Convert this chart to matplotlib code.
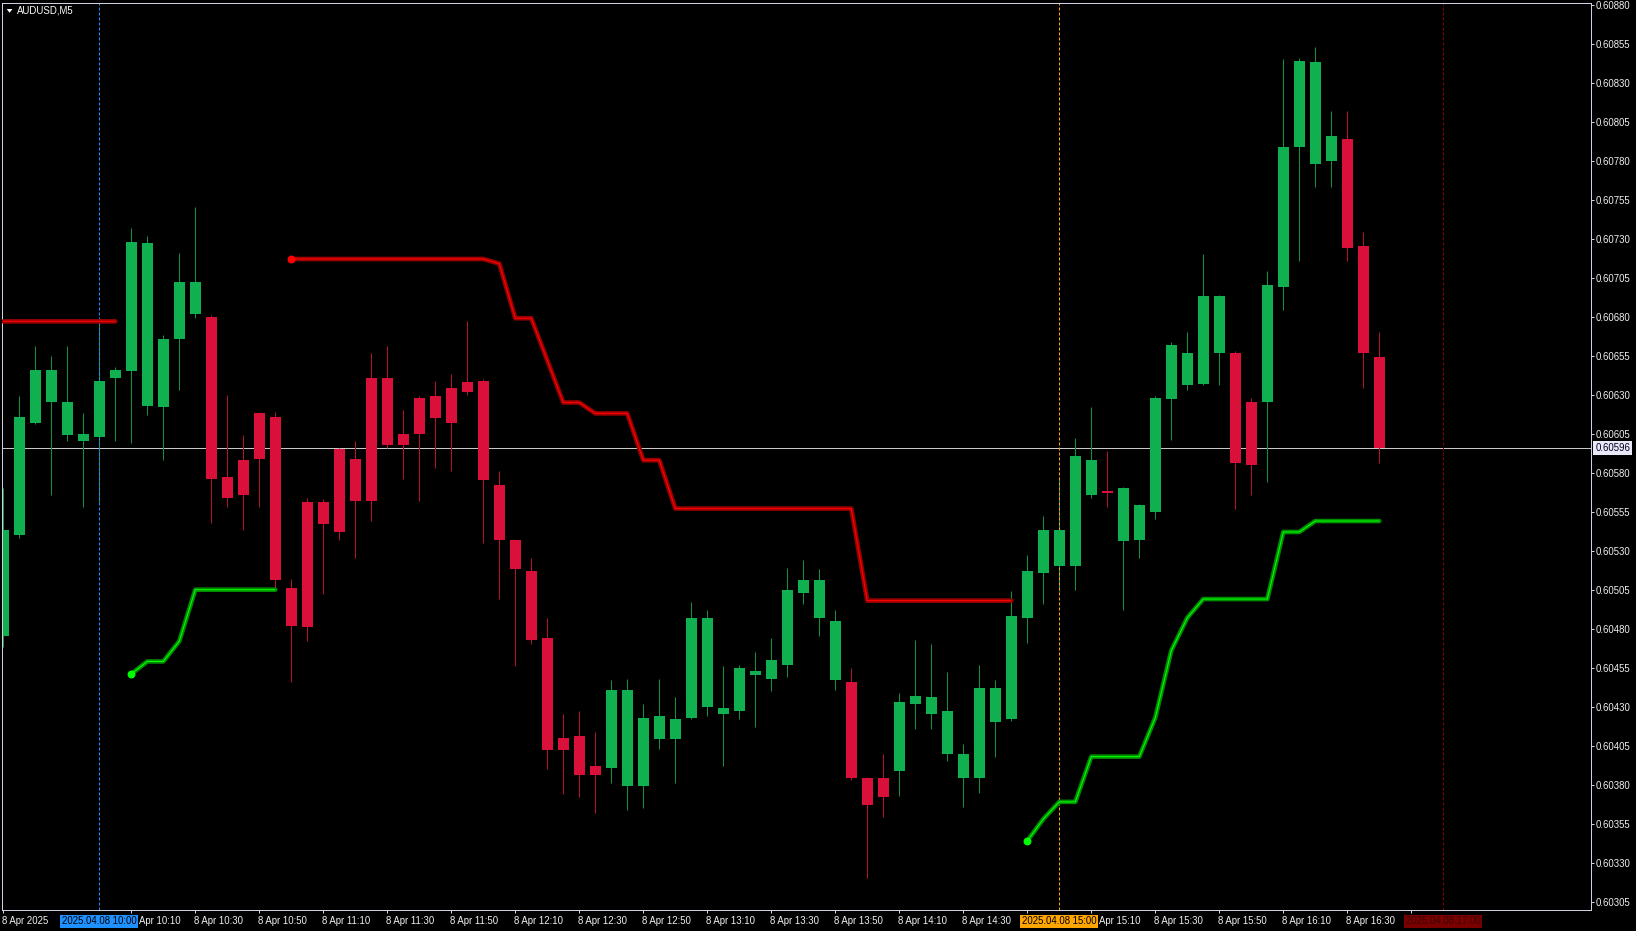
import matplotlib
matplotlib.use("Agg")
import matplotlib.pyplot as plt
from matplotlib.transforms import blended_transform_factory, ScaledTranslation
from matplotlib.patches import Polygon
import numpy as np
import pandas as pd

# ---------------- data ----------------
symbol_label = "AUDUSD,M5"
first_bar_time = "2025-04-08 09:30"
bar_minutes = 5

opens = [0.60475, 0.60540, 0.60612, 0.60625, 0.60604, 0.60600, 0.60603, 0.60641, 0.60645, 0.60623,
         0.60622, 0.60666, 0.60682, 0.60680, 0.60577, 0.60588, 0.60618, 0.60616, 0.60506, 0.60561,
         0.60561, 0.60595, 0.60589, 0.60641, 0.60641, 0.60605, 0.60628, 0.60629, 0.60634, 0.60638,
         0.60639, 0.60572, 0.60537, 0.60517, 0.60474, 0.60410, 0.60411, 0.60392, 0.60391, 0.60379,
         0.60379, 0.60409, 0.60409, 0.60423, 0.60430, 0.60425, 0.60427, 0.60450, 0.60448, 0.60457,
         0.60503, 0.60487, 0.60447, 0.60446, 0.60384, 0.60384, 0.60389, 0.60432, 0.60425, 0.60400,
         0.60384, 0.60384, 0.60420, 0.60422, 0.60487, 0.60516, 0.60520, 0.60520, 0.60566, 0.60568,
         0.60536, 0.60537, 0.60555, 0.60627, 0.60636, 0.60637, 0.60657, 0.60657, 0.60625, 0.60625,
         0.60699, 0.60789, 0.60778, 0.60780, 0.60794, 0.60725, 0.60654]
highs = [0.60570, 0.60629, 0.60661, 0.60655, 0.60661, 0.60618, 0.60678, 0.60648, 0.60737, 0.60732,
         0.60668, 0.60721, 0.60750, 0.60681, 0.60630, 0.60604, 0.60619, 0.60619, 0.60512, 0.60564,
         0.60563, 0.60596, 0.60600, 0.60657, 0.60661, 0.60620, 0.60629, 0.60639, 0.60643, 0.60677,
         0.60640, 0.60581, 0.60537, 0.60525, 0.60487, 0.60425, 0.60427, 0.60414, 0.60447, 0.60448,
         0.60432, 0.60448, 0.60436, 0.60497, 0.60492, 0.60456, 0.60457, 0.60465, 0.60474, 0.60519,
         0.60524, 0.60518, 0.60492, 0.60455, 0.60385, 0.60400, 0.60439, 0.60473, 0.60470, 0.60452,
         0.60406, 0.60457, 0.60447, 0.60504, 0.60527, 0.60552, 0.60577, 0.60602, 0.60622, 0.60594,
         0.60571, 0.60560, 0.60629, 0.60664, 0.60670, 0.60720, 0.60694, 0.60658, 0.60628, 0.60709,
         0.60845, 0.60846, 0.60853, 0.60812, 0.60812, 0.60734, 0.60670]
lows = [0.60468, 0.60538, 0.60611, 0.60566, 0.60600, 0.60558, 0.60561, 0.60600, 0.60599, 0.60617,
        0.60588, 0.60633, 0.60679, 0.60548, 0.60558, 0.60543, 0.60558, 0.60505, 0.60446, 0.60472,
        0.60502, 0.60537, 0.60525, 0.60549, 0.60596, 0.60576, 0.60562, 0.60583, 0.60581, 0.60630,
        0.60535, 0.60499, 0.60456, 0.60470, 0.60390, 0.60374, 0.60372, 0.60362, 0.60381, 0.60364,
        0.60365, 0.60403, 0.60381, 0.60422, 0.60424, 0.60392, 0.60422, 0.60417, 0.60440, 0.60449,
        0.60496, 0.60475, 0.60441, 0.60383, 0.60320, 0.60359, 0.60373, 0.60416, 0.60416, 0.60395,
        0.60366, 0.60375, 0.60398, 0.60421, 0.60471, 0.60496, 0.60504, 0.60505, 0.60564, 0.60558,
        0.60492, 0.60525, 0.60550, 0.60601, 0.60633, 0.60636, 0.60636, 0.60557, 0.60566, 0.60574,
        0.60684, 0.60716, 0.60763, 0.60763, 0.60716, 0.60634, 0.60586]
closes = [0.60543, 0.60616, 0.60646, 0.60646, 0.60625, 0.60605, 0.60639, 0.60646, 0.60728, 0.60727,
          0.60666, 0.60702, 0.60702, 0.60576, 0.60564, 0.60566, 0.60589, 0.60511, 0.60482, 0.60481,
          0.60547, 0.60542, 0.60562, 0.60562, 0.60598, 0.60598, 0.60605, 0.60615, 0.60612, 0.60632,
          0.60575, 0.60537, 0.60518, 0.60473, 0.60402, 0.60402, 0.60386, 0.60386, 0.60441, 0.60441,
          0.60423, 0.60424, 0.60422, 0.60487, 0.60487, 0.60429, 0.60455, 0.60453, 0.60460, 0.60505,
          0.60511, 0.60511, 0.60485, 0.60384, 0.60367, 0.60372, 0.60433, 0.60437, 0.60436, 0.60427,
          0.60400, 0.60442, 0.60442, 0.60488, 0.60517, 0.60543, 0.60543, 0.60591, 0.60588, 0.60567,
          0.60570, 0.60559, 0.60628, 0.60662, 0.60657, 0.60693, 0.60693, 0.60586, 0.60585, 0.60700,
          0.60789, 0.60844, 0.60843, 0.60796, 0.60724, 0.60657, 0.60596]

# trailing stop indicator (upper = bearish stop, lower = bullish stop); None = not drawn
stop_upper = [0.60677, 0.60677, 0.60677, 0.60677, 0.60677, 0.60677, 0.60677, 0.60677, None, None,
              None, None, None, None, None, None, None, None, 0.60717, 0.60717,
              0.60717, 0.60717, 0.60717, 0.60717, 0.60717, 0.60717, 0.60717, 0.60717, 0.60717, 0.60717,
              0.60717, 0.60714, 0.60679, 0.60679, 0.60652, 0.60625, 0.60625, 0.60618, 0.60618, 0.60618,
              0.60588, 0.60588, 0.60557, 0.60557, 0.60557, 0.60557, 0.60557, 0.60557, 0.60557, 0.60557,
              0.60557, 0.60557, 0.60557, 0.60557, 0.60498, 0.60498, 0.60498, 0.60498, 0.60498, 0.60498,
              0.60498, 0.60498, 0.60498, 0.60498, None, None, None, None, None, None,
              None, None, None, None, None, None, None, None, None, None,
              None, None, None, None, None, None, None]
stop_lower = [None, None, None, None, None, None, None, None, 0.60451, 0.60459,
              0.60459, 0.60472, 0.60505, 0.60505, 0.60505, 0.60505, 0.60505, 0.60505, None, None,
              None, None, None, None, None, None, None, None, None, None,
              None, None, None, None, None, None, None, None, None, None,
              None, None, None, None, None, None, None, None, None, None,
              None, None, None, None, None, None, None, None, None, None,
              None, None, None, None, 0.60344, 0.60358, 0.60369, 0.60369, 0.60398, 0.60398,
              0.60398, 0.60398, 0.60423, 0.60466, 0.60487, 0.60499, 0.60499, 0.60499, 0.60499, 0.60499,
              0.60542, 0.60542, 0.60549, 0.60549, 0.60549, 0.60549, 0.60549]

date_label = "8 Apr 2025"
# time-axis labels as they are visible (the ones under the highlighted boxes are partly hidden)
tick_times = ["10:10", "10:30", "10:50", "11:10", "11:30", "11:50", "12:10", "12:30", "12:50",
              "13:10", "13:30", "13:50", "14:10", "14:30", "14:50", "15:10", "15:30", "15:50",
              "16:10", "16:30", "16:50"]
tick_texts = ["Apr 10:10", "8 Apr 10:30", "8 Apr 10:50", "8 Apr 11:10", "8 Apr 11:30", "8 Apr 11:50",
              "8 Apr 12:10", "8 Apr 12:30", "8 Apr 12:50", "8 Apr 13:10", "8 Apr 13:30", "8 Apr 13:50",
              "8 Apr 14:10", "8 Apr 14:30", "", "Apr 15:10", "8 Apr 15:30", "8 Apr 15:50",
              "8 Apr 16:10", "8 Apr 16:30", ""]
marker_times = ["2025.04.08 10:00", "2025.04.08 15:00", "2025.04.08 17:00"]
y_ticks = [0.60305, 0.60330, 0.60355, 0.60380, 0.60405, 0.60430, 0.60455, 0.60480, 0.60505, 0.60530,
           0.60555, 0.60580, 0.60605, 0.60630, 0.60655, 0.60680, 0.60705, 0.60730, 0.60755, 0.60780,
           0.60805, 0.60830, 0.60855, 0.60880]

# ---------------- styles ----------------
W, H, DPI = 1636, 931, 100
FONT = "Liberation Sans"
FS = 6.9
PX = 72.0 / DPI  # points per pixel
FRAME = "#D0D0E4"
BULL_BODY, BULL_WICK = "#10B050", "#178C43"
BEAR_BODY, BEAR_WICK = "#D8103A", "#B01234"
marker_styles = [("#1E90FF", "#000000", "#1E90FF"),
                 ("#FFA500", "#000000", "#FFA500"),
                 ("#7A0000", "#3A0000", "#8B0000")]

plt.rcParams["font.family"] = [FONT, "DejaVu Sans"]

o = np.array(opens); h = np.array(highs); l = np.array(lows); c = np.array(closes)
n = len(o)
x = np.arange(n)
times = pd.date_range(first_bar_time, periods=n, freq=f"{bar_minutes}min")
t0 = times[0]
step = pd.Timedelta(minutes=bar_minutes)


def bar_pos(ts):
    return (ts - t0) / step


fig = plt.figure(figsize=(W / DPI, H / DPI), dpi=DPI, facecolor="black")
ax = fig.add_axes([2 / W, 21 / H, 1589 / W, 907.3 / H])
ax.set_facecolor("black")
ax.set_xlim(-1.3 / 16, 1587.7 / 16)
ax.set_ylim(0.6029968, 0.6088128)

for s in ax.spines.values():
    s.set_color(FRAME)
    s.set_linewidth(PX)

# current price line
ax.axhline(c[-1], color="#C8C8C8", lw=PX, zorder=0.6)

# candles
up = c >= o
wick_cols = np.where(up, BULL_WICK, BEAR_WICK)
ax.vlines(x, l, h, colors=wick_cols, lw=PX * 1.05, zorder=1)
body_h = np.where(np.abs(c - o) < 0.000012, 0.0000085 * np.sign(c - o + 1e-12), c - o)
ax.bar(x, body_h, bottom=o, width=11 / 16, color=np.where(up, BULL_BODY, BEAR_BODY),
       linewidth=0, zorder=2)

# period separators
marker_pos = [bar_pos(pd.to_datetime(t, format="%Y.%m.%d %H:%M")) for t in marker_times]
for xp, (bg, fg, lc) in zip(marker_pos, marker_styles):
    ax.axvline(xp, color=lc, lw=PX, linestyle=(0, (3, 2)), zorder=1.5)

# trailing stop lines
for vals, outer, inner in [(stop_upper, "#990000", "#FF0000"), (stop_lower, "#008A00", "#00FF00")]:
    arr = np.array(vals, dtype=float)
    ax.plot(x, arr, color=outer, lw=4.6 * PX, solid_capstyle="round", solid_joinstyle="round", zorder=4)
    ax.plot(x, arr, color=inner, lw=1.1 * PX, solid_capstyle="butt", solid_joinstyle="round", zorder=5)
    starts = [i for i in range(1, n) if not np.isnan(arr[i]) and np.isnan(arr[i - 1])]
    ax.plot(x[starts], arr[starts], "o", ms=6.5 * PX, color=inner, mec=inner, zorder=6)

# y axis on right
ax.yaxis.tick_right()
ax.set_yticks(y_ticks)
ax.set_yticklabels([f"{v:.5f}" for v in y_ticks])
ax.tick_params(axis="y", direction="out", length=3 * PX, width=PX, color=FRAME,
               labelcolor="#F0F0F0", labelsize=FS, pad=2 * PX)

# x axis ticks and labels
xt = [0] + [bar_pos(pd.Timestamp(f"2025-04-08 {t}")) for t in tick_times]
xl = [date_label] + tick_texts
ax.set_xticks(xt)
ax.set_xticklabels([""] * len(xt))
ax.tick_params(axis="x", direction="out", length=3 * PX, width=PX, color=FRAME)
btr = blended_transform_factory(ax.transData, ax.transAxes)
for xp, lab in zip(xt, xl):
    if not lab:
        continue
    # partially hidden labels start where the highlighted box ends
    dx = -1.5 if lab.startswith("8 ") else 7.5
    ax.text(xp, 0, lab, transform=btr + ScaledTranslation(dx / DPI, -11.5 / DPI, fig.dpi_scale_trans),
            ha="left", va="center", color="#F0F0F0", fontsize=FS, clip_on=False, zorder=3)

for xp, tstr, (bg, fg, lc) in zip(marker_pos, marker_times, marker_styles):
    ax.text(xp, 0, tstr, transform=btr + ScaledTranslation(0, -11.5 / DPI, fig.dpi_scale_trans),
            ha="center", va="center", color=fg, fontsize=FS, clip_on=False, zorder=10,
            bbox=dict(boxstyle="square,pad=0.18", fc=bg, ec="none"))

# current price label
ptr = blended_transform_factory(ax.transAxes, ax.transData)
ax.text(1.0, c[-1], f"{c[-1]:.5f}", transform=ptr + ScaledTranslation(4.5 / DPI, 0, fig.dpi_scale_trans),
        ha="left", va="center", color="#000020", fontsize=FS, clip_on=False, zorder=10,
        bbox=dict(boxstyle="square,pad=0.22", fc="#E8E8F8", ec="none"))

# symbol label with triangle
tri = Polygon([[6.7 / W, 1 - 9 / H], [12.5 / W, 1 - 9 / H], [9.6 / W, 1 - 12.8 / H]],
              closed=True, transform=fig.transFigure, fc="white", ec="none", zorder=10)
fig.patches.append(tri)
fig.text(17.3 / W, 1 - 10.5 / H, symbol_label, ha="left", va="center", color="white", fontsize=FS)

fig.savefig("out.png", dpi=DPI, facecolor="black")
